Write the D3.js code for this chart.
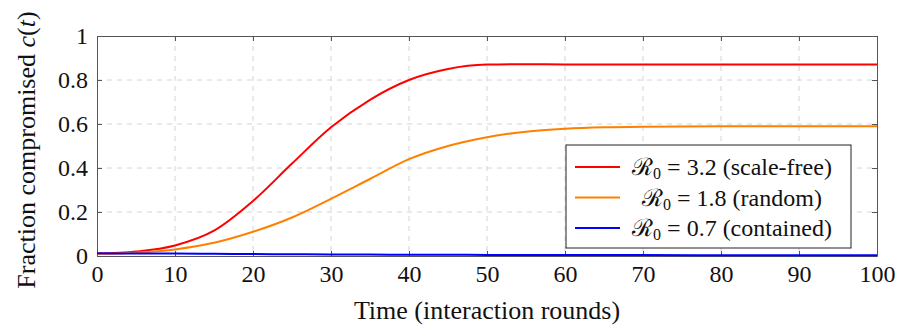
<!DOCTYPE html>
<html lang="en">
<head>
<meta charset="UTF-8">
<title>Fraction compromised</title>
<style>
  body { margin: 0; background: #fff; }
  svg text { font-family: "Liberation Serif", "Times New Roman", Times, serif; fill: #111; }
</style>
<script src="https://cdn.jsdelivr.net/npm/d3@7"></script>
</head>
<body>
<script>
// data
var times = [0, 5, 10, 15, 20, 25, 30, 35, 40, 45, 50, 55, 60, 65, 70, 80, 90, 100];
var scaleFree = [0.01, 0.02, 0.048, 0.115, 0.25, 0.42, 0.585, 0.71, 0.80, 0.85, 0.87, 0.872, 0.871, 0.871, 0.871, 0.871, 0.871, 0.871];
var randomNet = [0.01, 0.015, 0.03, 0.06, 0.11, 0.175, 0.26, 0.35, 0.44, 0.50, 0.54, 0.565, 0.578, 0.585, 0.588, 0.59, 0.59, 0.59];
var contained = [0.012, 0.0115, 0.011, 0.01, 0.009, 0.008, 0.007, 0.0065, 0.006, 0.0055, 0.005, 0.0045, 0.004, 0.004, 0.004, 0.0035, 0.003, 0.003];
var xTicks = [0, 10, 20, 30, 40, 50, 60, 70, 80, 90, 100];
var yTicks = [0, 0.2, 0.4, 0.6, 0.8, 1];

var series = [
    {label: "3.2 (scale-free)", color: "#ff0000", values: scaleFree},
    {label: "1.8 (random)", color: "#ff8000", values: randomNet},
    {label: "0.7 (contained)", color: "#0000ff", values: contained}
];

var width = 898, height = 327;
var margin = {top: 36, right: 21, bottom: 71, left: 97};
var plotW = width - margin.left - margin.right;
var plotH = height - margin.top - margin.bottom;

var svg = d3.select("body").append("svg")
    .attr("width", width)
    .attr("height", height);

var g = svg.append("g")
    .attr("transform", "translate(" + margin.left + "," + margin.top + ")");

var x = d3.scaleLinear().domain([0, 100]).range([0, plotW]);
var y = d3.scaleLinear().domain([0, 1]).range([plotH, 0]);

// dashed grid
g.append("g").selectAll("line")
    .data(xTicks.slice(1, -1))
    .join("line")
    .attr("x1", d => x(d)).attr("x2", d => x(d))
    .attr("y1", 0).attr("y2", plotH)
    .attr("stroke", "#d4d4d4").attr("stroke-dasharray", "5,5");

g.append("g").selectAll("line")
    .data(yTicks.slice(1, -1))
    .join("line")
    .attr("y1", d => y(d)).attr("y2", d => y(d))
    .attr("x1", 0).attr("x2", plotW)
    .attr("stroke", "#d4d4d4").attr("stroke-dasharray", "5,5");

// axes with inner ticks on all four sides
var xAxis = g.append("g")
    .attr("transform", "translate(0," + plotH + ")")
    .call(d3.axisBottom(x).tickValues(xTicks).tickSizeInner(-5).tickSizeOuter(0).tickPadding(9).tickFormat(d3.format("d")));
var yAxis = g.append("g")
    .call(d3.axisLeft(y).tickValues(yTicks).tickSizeInner(-5).tickSizeOuter(0).tickPadding(9).tickFormat(d => d === 0 || d === 1 ? d : d3.format(".1f")(d)));
var xTop = g.append("g")
    .call(d3.axisTop(x).tickValues(xTicks).tickSizeInner(-5).tickSizeOuter(0).tickFormat(""));
var yRight = g.append("g")
    .attr("transform", "translate(" + plotW + ",0)")
    .call(d3.axisRight(y).tickValues(yTicks).tickSizeInner(-5).tickSizeOuter(0).tickFormat(""));

[xAxis, yAxis, xTop, yRight].forEach(function(a) {
    a.attr("font-family", null).attr("font-size", 24);
    a.select(".domain").attr("stroke", "#555");
    a.selectAll(".tick line").attr("stroke", "#555");
    a.selectAll("text").attr("fill", null);
});

// curves
var line = d3.line()
    .x((d, i) => x(times[i]))
    .y(d => y(d))
    .curve(d3.curveMonotoneX);

series.forEach(function(s) {
    g.append("path")
        .datum(s.values)
        .attr("d", line)
        .attr("fill", "none")
        .attr("stroke", s.color)
        .attr("stroke-width", 2);
});

// axis labels
svg.append("text")
    .attr("x", margin.left + plotW / 2)
    .attr("y", 319)
    .attr("text-anchor", "middle")
    .attr("font-size", 26)
    .text("Time (interaction rounds)");

var yl = svg.append("text")
    .attr("transform", "translate(35," + (margin.top + plotH / 2 + 4) + ") rotate(-90)")
    .attr("text-anchor", "middle")
    .attr("font-size", 26);
yl.append("tspan").text("Fraction compromised ");
yl.append("tspan").attr("font-style", "italic").text("c");
yl.append("tspan").text("(");
yl.append("tspan").attr("font-style", "italic").text("t");
yl.append("tspan").text(")");

// legend
var legend = svg.append("g").attr("transform", "translate(566,145)");
legend.append("rect")
    .attr("width", 285).attr("height", 103)
    .attr("fill", "#fff").attr("stroke", "#222").attr("stroke-width", 1);

series.forEach(function(s, i) {
    var cy = 22 + i * 30.5;
    legend.append("line")
        .attr("x1", 9).attr("x2", 54)
        .attr("y1", cy).attr("y2", cy)
        .attr("stroke", s.color).attr("stroke-width", 2);
    var t = legend.append("text")
        .attr("x", 166).attr("y", cy + 8)
        .attr("text-anchor", "middle")
        .attr("font-size", 24);
    t.append("tspan").text("\u211B");
    t.append("tspan").attr("font-size", 16).attr("dy", 4).text("0");
    t.append("tspan").attr("dy", -4).text(" = " + s.label);
});
</script>
</body>
</html>
